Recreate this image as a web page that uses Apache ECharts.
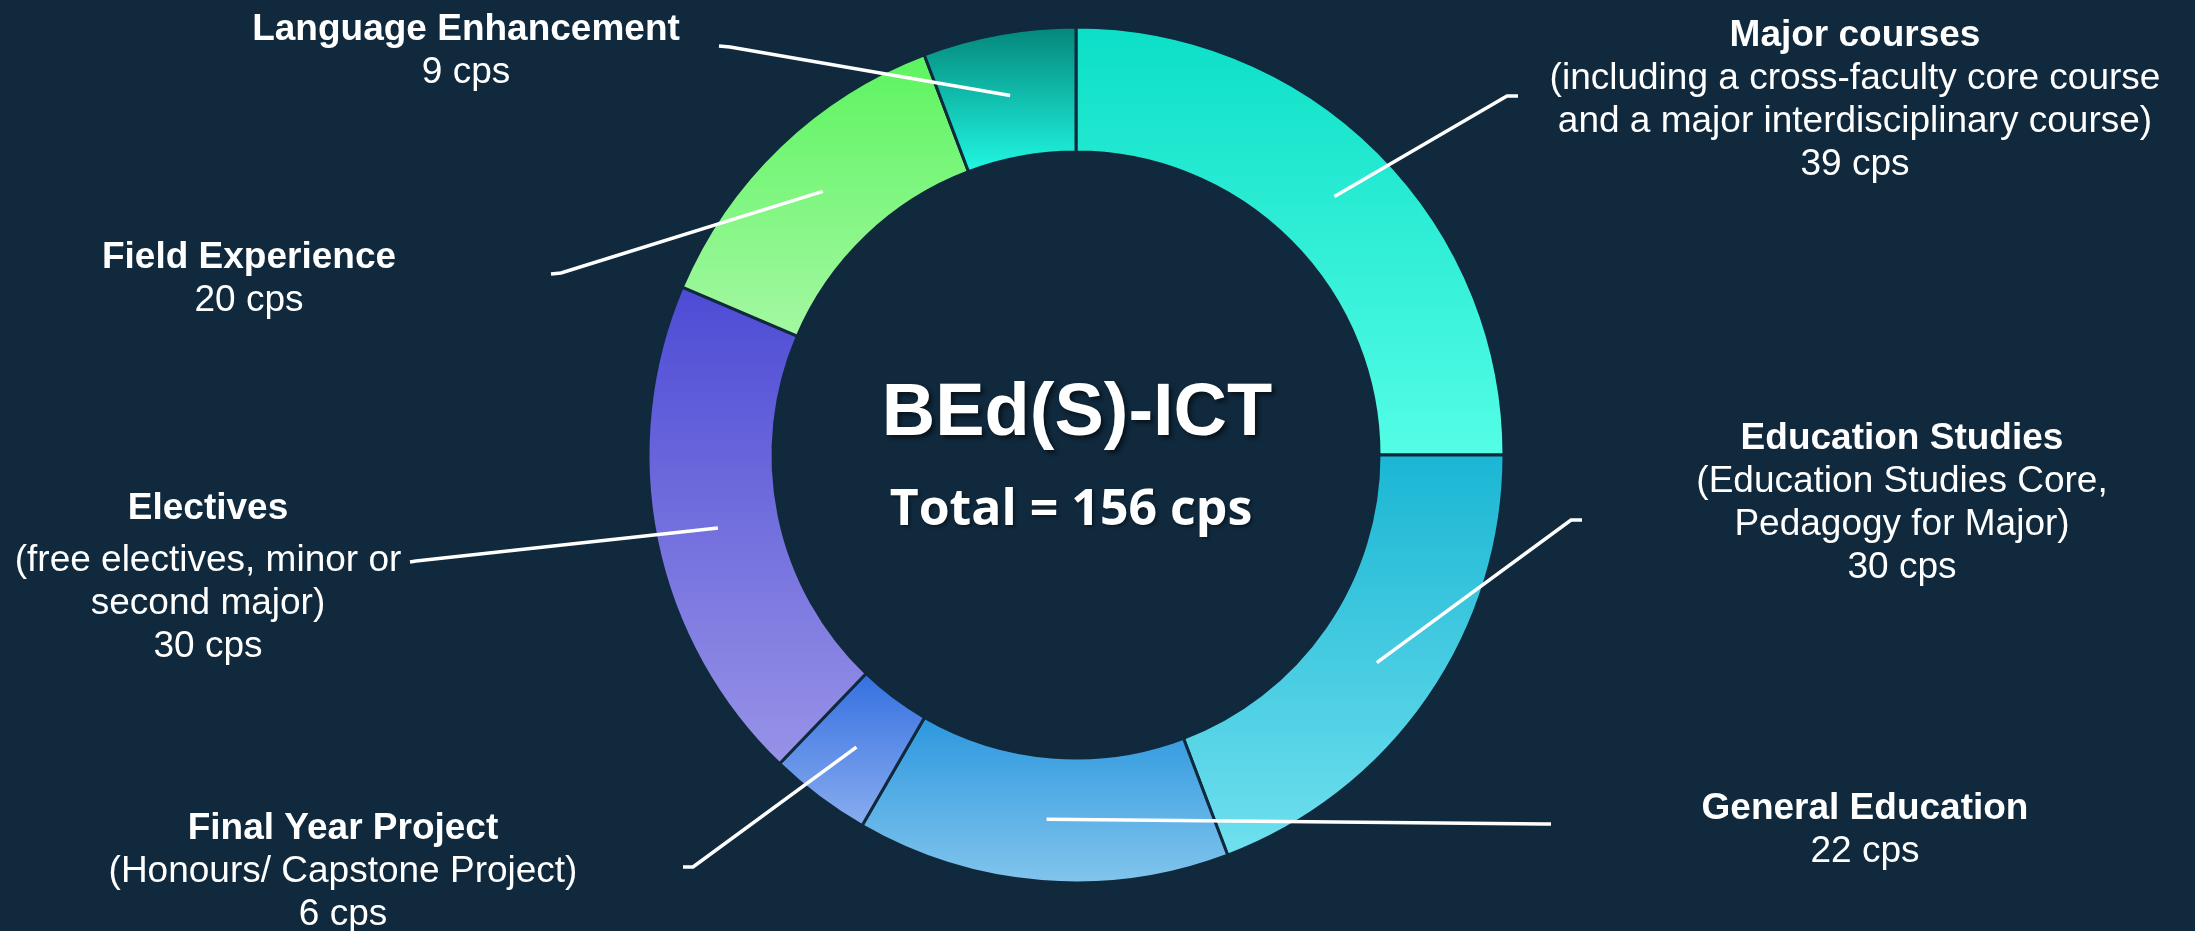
<!DOCTYPE html>
<html>
<head>
<meta charset="utf-8">
<script src="https://cdn.jsdelivr.net/npm/echarts@6/dist/echarts.min.js"></script>
<style>
  html, body { margin: 0; padding: 0; background: #10293d; }
  #chart { width: 2195px; height: 931px; }
</style>
</head>
<body>
<div id="chart"></div>
<script>
// ---------- data ----------
const categories = [
  'Major courses',
  'Education Studies',
  'General Education',
  'Final Year Project',
  'Electives',
  'Field Experience',
  'Language Enhancement'
];
const credits = [39, 30, 22, 6, 30, 20, 9];
const notes = [
  ['(including a cross-faculty core course', 'and a major interdisciplinary course)'],
  ['(Education Studies Core,', 'Pedagogy for Major)'],
  [],
  ['(Honours/ Capstone Project)'],
  ['(free electives, minor or', 'second major)'],
  [],
  []
];
const programmeName = 'BEd(S)-ICT';
const unit = 'cps';

// ---------- styles / layout ----------
const BG = '#10293d';
const gradients = [
  ['#0cdfc7', '#54fde6'],
  ['#1ab6d4', '#70e0ee'],
  ['#2c97de', '#82c5ed'],
  ['#3470e0', '#8aadef'],
  ['#4d4bd5', '#9893e7'],
  ['#5cf45f', '#a4f8a2'],
  ['#04857a', '#20f9e3']
];
const CX = 1076, CY = 455, R0 = 303, R1 = 428;
// label block centres
const labelAnchors = [
  [1855, 100], [1902, 503], [1865, 830], [343, 872], [208, 573], [249, 279], [466, 51]
];
// leader line elbow and end points
const leaderEnds = [
  [[1507, 96], [1518, 96]],
  [[1571, 520], [1582, 520]],
  [[1545, 824], [1551, 824]],
  [[693, 867], [683, 867]],
  [[416, 561], [410, 562]],
  [[561, 273], [551, 274]],
  [[730, 47], [719, 46]]
];

const total = credits.reduce((a, b) => a + b, 0);
const FONT = '"Liberation Sans", Arial, sans-serif';

const chart = echarts.init(document.getElementById('chart'), null, { renderer: 'canvas' });

function lineStart(i) {
  try {
    const lay = chart.getModel().getSeriesByIndex(0).getData().getItemLayout(i);
    const mid = (lay.startAngle + lay.endAngle) / 2;
    const rm = (lay.r + lay.r0) / 2;
    return [lay.cx + rm * Math.cos(mid), lay.cy + rm * Math.sin(mid)];
  } catch (e) {
    let cum = 0;
    for (let k = 0; k < i; k++) cum += credits[k];
    const a = (cum + credits[i] / 2) / total * 2 * Math.PI;
    const rm = (R0 + R1) / 2;
    return [CX + rm * Math.sin(a), CY - rm * Math.cos(a)];
  }
}

const ringData = categories.map((name, i) => ({
  name: name,
  value: credits[i],
  itemStyle: {
    color: {
      type: 'linear', x: 0, y: 0, x2: 0, y2: 1,
      colorStops: [{ offset: 0, color: gradients[i][0] }, { offset: 1, color: gradients[i][1] }]
    }
  }
}));
const labelData = categories.map((name, i) => ({ name: name, value: credits[i] }));

const option = {
  backgroundColor: BG,
  animation: false,
  series: [
    {
      type: 'pie',
      z: 2,
      center: [CX, CY],
      radius: [R0, R1],
      startAngle: 90,
      clockwise: true,
      avoidLabelOverlap: false,
      silent: true,
      itemStyle: { borderColor: BG, borderWidth: 3 },
      label: { show: false },
      labelLine: { show: false },
      data: ringData
    },
    {
      type: 'pie',
      z: 5,
      center: [CX, CY],
      radius: [R0, R1],
      startAngle: 90,
      clockwise: true,
      avoidLabelOverlap: false,
      silent: true,
      itemStyle: { color: 'rgba(0,0,0,0)', borderWidth: 0 },
      label: {
        show: true,
        position: 'outside',
        overflow: 'none',
        color: '#ffffff',
        fontFamily: FONT,
        formatter: function (p) {
          const i = p.dataIndex;
          const titleStyle = i === 4 ? 'te' : 't';
          const lines = ['{' + titleStyle + '|' + p.name + '}'];
          notes[i].forEach(n => lines.push('{s|' + n + '}'));
          lines.push('{s|' + p.value + ' ' + unit + '}');
          return lines.join('\n');
        },
        rich: {
          t: { fontFamily: FONT, fontWeight: 'bold', fontSize: 37, lineHeight: 43, color: '#fff', align: 'center' },
          te: { fontFamily: FONT, fontWeight: 'bold', fontSize: 37, lineHeight: 61, color: '#fff', align: 'center' },
          s: { fontFamily: FONT, fontSize: 37, lineHeight: 43, color: '#fff', align: 'center' }
        }
      },
      labelLine: {
        show: true,
        length: 20,
        length2: 10,
        lineStyle: { color: '#ffffff', width: 3.5 }
      },
      labelLayout: function (p) {
        const i = p.dataIndex;
        const a = labelAnchors[i];
        return {
          x: a[0], y: a[1], align: 'center', verticalAlign: 'middle',
          labelLinePoints: [lineStart(i), leaderEnds[i][0], leaderEnds[i][1]]
        };
      },
      data: labelData
    }
  ],
  graphic: [
    {
      type: 'text', x: 1077, y: 415, silent: true,
      style: {
        text: programmeName,
        fill: '#ffffff',
        font: 'bold 74px "Liberation Sans", Arial, sans-serif',
        align: 'center', verticalAlign: 'middle',
        textShadowColor: 'rgba(0,0,0,0.55)', textShadowBlur: 4,
        textShadowOffsetX: 3, textShadowOffsetY: 3
      }
    },
    {
      type: 'text', x: 1071, y: 511, silent: true,
      style: {
        text: 'Total = ' + total + ' ' + unit,
        fill: '#ffffff',
        font: 'bold 50px "Open Sans", sans-serif',
        align: 'center', verticalAlign: 'middle',
        textShadowColor: 'rgba(0,0,0,0.4)', textShadowBlur: 3,
        textShadowOffsetX: 2, textShadowOffsetY: 2
      }
    }
  ]
};

chart.setOption(option);
</script>
</body>
</html>
